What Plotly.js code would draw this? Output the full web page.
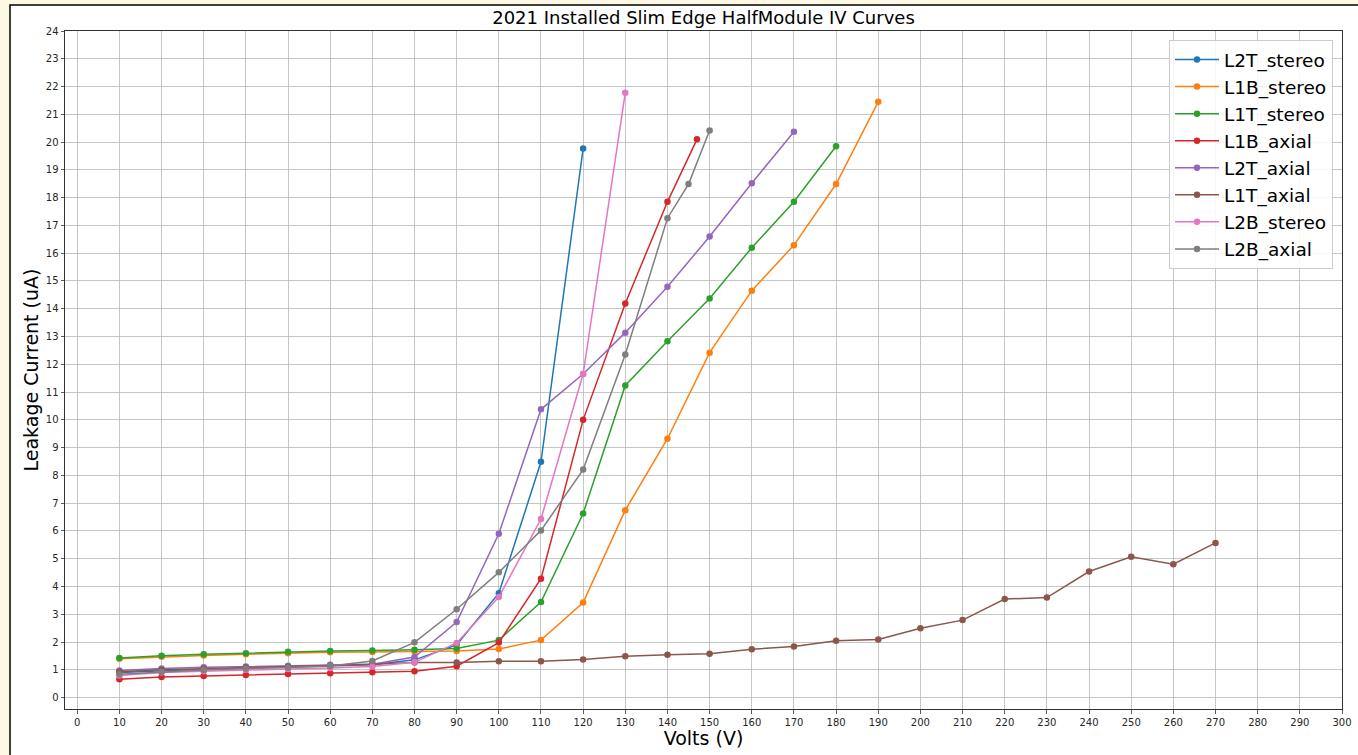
<!DOCTYPE html>
<html>
<head>
<meta charset="utf-8">
<script src="https://cdn.plot.ly/plotly-3.0.1.min.js"></script>
<style>
html,body{margin:0;padding:0;background:#fdf8e3;}
#chart{width:1358px;height:755px;}
</style>
</head>
<body>
<div id="chart"></div>
<script>
// ---- data ----
const seriesNames = ["L2T_stereo","L1B_stereo","L1T_stereo","L1B_axial","L2T_axial","L1T_axial","L2B_stereo","L2B_axial"];
const seriesColors = ["#1f77b4","#ff7f0e","#2ca02c","#d62728","#9467bd","#8c564b","#e377c2","#7f7f7f"];

const L2T_stereo_V = [10,20,30,40,50,60,70,80,90,100,110,120];
const L2T_stereo_I = [0.90,0.97,1.02,1.06,1.10,1.13,1.18,1.36,1.90,3.76,8.49,19.77];

const L1B_stereo_V = [10,20,30,40,50,60,70,80,90,100,110,120,130,140,150,160,170,180,190];
const L1B_stereo_I = [1.40,1.47,1.52,1.56,1.60,1.63,1.64,1.66,1.68,1.75,2.07,3.42,6.75,9.32,12.42,14.65,16.29,18.49,21.45];

const L1T_stereo_V = [10,20,30,40,50,60,70,80,90,100,110,120,130,140,150,160,170,180];
const L1T_stereo_I = [1.43,1.51,1.56,1.60,1.65,1.68,1.70,1.72,1.77,2.07,3.44,6.63,11.24,12.83,14.37,16.20,17.85,19.85];

const L1B_axial_V = [10,20,30,40,50,60,70,80,90,100,110,120,130,140,147];
const L1B_axial_I = [0.66,0.74,0.78,0.81,0.85,0.88,0.91,0.95,1.13,1.98,4.28,10.00,14.19,17.85,20.10];

const L2T_axial_V = [10,20,30,40,50,60,70,80,90,100,110,120,130,140,150,160,170];
const L2T_axial_I = [0.98,1.05,1.09,1.12,1.15,1.18,1.20,1.46,2.72,5.90,10.38,11.65,13.14,14.79,16.60,18.52,20.37];

const L1T_axial_V = [10,20,30,40,50,60,70,80,90,100,110,120,130,140,150,160,170,180,190,200,210,220,230,240,250,260,270];
const L1T_axial_I = [0.93,1.00,1.04,1.08,1.11,1.15,1.20,1.26,1.26,1.31,1.31,1.37,1.49,1.54,1.58,1.74,1.84,2.05,2.09,2.50,2.79,3.55,3.60,4.54,5.07,4.80,5.57];

const L2B_stereo_V = [10,20,30,40,50,60,70,80,90,100,110,120,130];
const L2B_stereo_I = [0.80,0.90,0.95,1.00,1.03,1.07,1.12,1.27,1.97,3.62,6.43,11.65,21.78];

const L2B_axial_V = [10,20,30,40,50,60,70,80,90,100,110,120,130,140,145,150];
const L2B_axial_I = [0.84,0.92,0.99,1.05,1.08,1.14,1.32,1.99,3.18,4.51,6.02,8.21,12.35,17.26,18.49,20.42];

const seriesV = [L2T_stereo_V,L1B_stereo_V,L1T_stereo_V,L1B_axial_V,L2T_axial_V,L1T_axial_V,L2B_stereo_V,L2B_axial_V];
const seriesI = [L2T_stereo_I,L1B_stereo_I,L1T_stereo_I,L1B_axial_I,L2T_axial_I,L1T_axial_I,L2B_stereo_I,L2B_axial_I];

const titleText = "2021 Installed Slim Edge HalfModule IV Curves";
const xTitle = "Volts (V)";
const yTitle = "Leakage Current (uA)";

// ---- build ----
const FONT = "DejaVu Sans, Liberation Sans, sans-serif";
const traces = seriesNames.map((n,i)=>({
  type:"scatter", mode:"lines+markers", name:n,
  x:seriesV[i], y:seriesI[i],
  line:{color:seriesColors[i], width:1.5},
  marker:{color:seriesColors[i], size:6.5}
}));

const W=1358,H=755, L=65, R=16, T=31, B=46;
const pw=W-L-R, ph=H-T-B;
const px=(p)=>(p-L)/pw, py=(p)=>(H-B-p)/ph;

const axisCommon = {
  showline:true, mirror:true, linecolor:"#333", linewidth:1,
  ticks:"outside", ticklen:3.5, tickwidth:0.8, tickcolor:"#333",
  showgrid:true, gridcolor:"#b8b8b8", gridwidth:0.8, zeroline:false,
  tickfont:{family:FONT, size:10, color:"#262626"}
};

const layout = {
  width:W, height:H,
  margin:{l:L, r:R, t:T, b:B, pad:0},
  paper_bgcolor:"#fdf8e3", plot_bgcolor:"#ffffff",
  font:{family:FONT, color:"#000"},
  title:{text:titleText, font:{family:FONT, size:18, color:"#000"},
         x:px(703.5), xanchor:"center", xref:"paper", y:1-18/H, yanchor:"middle"},
  xaxis:Object.assign({}, axisCommon, {
    range:[-2.9,300], tick0:0, dtick:10,
    title:{text:xTitle, font:{family:FONT, size:19, color:"#000"}, standoff:3}
  }),
  yaxis:Object.assign({}, axisCommon, {
    range:[-0.41,24], tick0:0, dtick:1,
    title:{text:yTitle, font:{family:FONT, size:19, color:"#000"}, standoff:2}
  }),
  legend:{x:px(1333), xanchor:"right", y:py(40), yanchor:"top",
          bgcolor:"rgba(255,255,255,0.85)", bordercolor:"#cccccc", borderwidth:1,
          font:{family:FONT, size:18.5, color:"#000"}, itemwidth:44, tracegroupgap:0},
  shapes:[{type:"rect", xref:"paper", yref:"paper", layer:"below",
           x0:px(10), x1:px(1365), y0:py(765), y1:py(5),
           fillcolor:"#ffffff", line:{color:"#000", width:1.5}}],
  showlegend:true
};

Plotly.newPlot("chart", traces, layout, {displayModeBar:false, staticPlot:true});
</script>
</body>
</html>
